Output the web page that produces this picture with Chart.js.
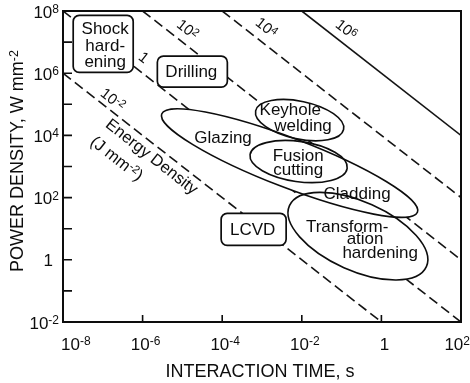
<!DOCTYPE html>
<html>
<head>
<meta charset="utf-8">
<script src="https://cdn.jsdelivr.net/npm/chart.js@4"></script>
<style>
  body { margin: 0; background: #fff; }
  #wrap { width: 470px; height: 383px; }
</style>
</head>
<body>
<div id="wrap"><canvas id="chart" width="470" height="383"></canvas></div>
<script>
// axis ranges and ticks
var timeRange = [1e-8, 1e2];
var powerRange = [1e-2, 1e8];
var xTickValues = [1e-8, 1e-6, 1e-4, 1e-2, 1, 1e2];
var xTickLabels = [['10', '-8'], ['10', '-6'], ['10', '-4'], ['10', '-2'], ['1', ''], ['10', '2']];
var yTickValues = [1e-2, 1, 1e2, 1e4, 1e6, 1e8];
var yTickLabels = [['10', '-2'], ['1', ''], ['10', '2'], ['10', '4'], ['10', '6'], ['10', '8']];
var yMarkValues = [1e-1, 1e1, 1e3, 1e5, 1e7];
var xMarkValues = [1e-6, 1e-4, 1e-2, 1];

// lines of constant energy density (J mm-2)
var energyLevels = ['1e-2', '1', '1e2', '1e4', '1e6'];
var lineStartTime = [1e-8, 1e-8, 1e-6, 1e-4, 1e-2];
var lineStartPower = [1e6, 1e8, 1e8, 1e8, 1e8];
var lineEndTime = [1, 1e2, 1e2, 1e2, 1e2];
var lineEndPower = [1e-2, 1e-2, 1, 1e2, 1e4];
var lineLabelBase = ['10', '1', '10', '10', '10'];
var lineLabelExp = ['-2', '', '2', '4', '6'];
var lineLabelLogT = [-6.76, -5.98, -4.88, -2.90, -0.89];
var lineLabelLogP = [5.14, 6.49, 7.39, 7.45, 7.39];

// process regions (ellipses): major axis ends in log10 units, minor/major ratio
var regionNames = ['Glazing / Cladding', 'Keyhole welding', 'Fusion cutting', 'Transformation hardening'];
var regionStartLogT = [-5.52, -3.16, -3.30, -2.31];
var regionStartLogP = [4.69, 4.79, 3.38, 1.74];
var regionEndLogT = [0.905, -0.95, -0.86, 1.13];
var regionEndLogP = [1.53, 4.19, 2.94, -0.22];
var regionRatio = [0.18, 0.42, 0.41, 0.46];

var regionText = ['Glazing', 'Keyhole', 'welding', 'Fusion', 'cutting', 'Cladding', 'Transform-', 'ation', 'hardening'];
var regionTextLogT = [-3.98, -2.29, -1.97, -2.09, -2.09, -0.61, -0.86, -0.41, -0.03];
var regionTextLogP = [3.91, 4.81, 4.30, 3.33, 2.88, 2.11, 1.05, 0.66, 0.21];

// boxed processes
var boxText = [['Shock', 'hard-', 'ening'], ['Drilling'], ['LCVD']];
var boxLogT = [-6.99, -4.75, -3.21];
var boxLogP = [6.94, 6.05, 0.98];

// note along the lowest line
var noteLogT = [-5.78, -6.66];
var noteLogP = [3.30, 3.24];

// styles
var FONT = '"Liberation Sans", Arial, Helvetica, sans-serif';
var INK = '#0d0d0d';
var boxSize = [[60, 57], [70, 31], [65, 32]];

function partsWidth(ctx, parts, size, sup) {
    var w = 0;
    parts.forEach(function (p) {
	ctx.font = (p[1] ? sup : size) + 'px ' + FONT;
	w += ctx.measureText(p[0]).width;
    });
    return w;
}

function drawParts(ctx, parts, x, y, size, sup, align) {
    var w = partsWidth(ctx, parts, size, sup);
    var pos = align === 'right' ? x - w : (align === 'left' ? x : x - w / 2);
    var rise = size * 0.36 - sup * 0.36 + 1.5;
    ctx.textAlign = 'left';
    ctx.textBaseline = 'middle';
    parts.forEach(function (p) {
	ctx.font = (p[1] ? sup : size) + 'px ' + FONT;
	ctx.fillText(p[0], pos, p[1] ? y - rise : y);
	pos += ctx.measureText(p[0]).width;
    });
    return w;
}

function supParts(base, exp) {
    var parts = [[base, false]];
    if (exp) parts.push([exp, true]);
    return parts;
}

var overlay = {
    id: 'overlay',
    afterDatasetsDraw: function (chart) {
	var ctx = chart.ctx;
	var xs = chart.scales.x, ys = chart.scales.y;
	var area = chart.chartArea;
	var px = function (lt) { return xs.getPixelForValue(Math.pow(10, lt)); };
	var py = function (lp) { return ys.getPixelForValue(Math.pow(10, lp)); };
	ctx.save();

	// ellipses: fill all, then outline all
	var shapes = [];
	for (var i = 0; i < regionNames.length; i++) {
	    var x1 = px(regionStartLogT[i]), y1 = py(regionStartLogP[i]);
	    var x2 = px(regionEndLogT[i]), y2 = py(regionEndLogP[i]);
	    var a = Math.hypot(x2 - x1, y2 - y1) / 2;
	    shapes.push([(x1 + x2) / 2, (y1 + y2) / 2, a, a * regionRatio[i], Math.atan2(y2 - y1, x2 - x1)]);
	}
	ctx.fillStyle = '#fff';
	shapes.forEach(function (s) {
	    ctx.beginPath(); ctx.ellipse(s[0], s[1], s[2], s[3], s[4], 0, Math.PI * 2); ctx.fill();
	});
	ctx.strokeStyle = INK;
	ctx.lineWidth = 1.6;
	shapes.forEach(function (s) {
	    ctx.beginPath(); ctx.ellipse(s[0], s[1], s[2], s[3], s[4], 0, Math.PI * 2); ctx.stroke();
	});

	// boxes
	for (var b = 0; b < boxText.length; b++) {
	    var bx = px(boxLogT[b]), by = py(boxLogP[b]);
	    var w = boxSize[b][0], h = boxSize[b][1];
	    ctx.beginPath();
	    ctx.roundRect(bx - w / 2, by - h / 2, w, h, 6);
	    ctx.fillStyle = '#fff';
	    ctx.fill();
	    ctx.lineWidth = 1.7;
	    ctx.stroke();
	    ctx.fillStyle = INK;
	    ctx.font = '17px ' + FONT;
	    ctx.textAlign = 'center';
	    ctx.textBaseline = 'middle';
	    var n = boxText[b].length;
	    for (var k = 0; k < n; k++) {
		var off = n > 1 ? 2 : 1;
		ctx.fillText(boxText[b][k], bx + (n > 1 ? 2 : -1), by + off + (k - (n - 1) / 2) * 16.5);
	    }
	}

	// region labels
	ctx.fillStyle = INK;
	ctx.font = '17px ' + FONT;
	ctx.textAlign = 'center';
	ctx.textBaseline = 'middle';
	for (var t = 0; t < regionText.length; t++) {
	    ctx.fillText(regionText[t], px(regionTextLogT[t]), py(regionTextLogP[t]));
	}

	// labels along the energy lines
	var ang = Math.atan2(ys.getPixelForValue(lineEndPower[0]) - ys.getPixelForValue(lineStartPower[0]),
			     xs.getPixelForValue(lineEndTime[0]) - xs.getPixelForValue(lineStartTime[0]));
	for (var l = 0; l < energyLevels.length; l++) {
	    ctx.save();
	    ctx.translate(px(lineLabelLogT[l]), py(lineLabelLogP[l]));
	    ctx.rotate(ang);
	    drawParts(ctx, supParts(lineLabelBase[l], lineLabelExp[l]), 0, 0, 15, 11, 'center');
	    ctx.restore();
	}
	var notes = [[['Energy Density', false]], [['(J mm', false], ['-2', true], [')', false]]];
	for (var m = 0; m < notes.length; m++) {
	    ctx.save();
	    ctx.translate(px(noteLogT[m]), py(noteLogP[m]));
	    ctx.rotate(ang);
	    drawParts(ctx, notes[m], 0, 0, 16.5, 11.5, 'center');
	    ctx.restore();
	}

	// frame and inner tick marks
	ctx.strokeStyle = '#0d0d0d';
	ctx.lineWidth = 2;
	ctx.strokeRect(area.left, area.top, area.right - area.left, area.bottom - area.top);
	ctx.lineWidth = 1.6;
	ctx.beginPath();
	yMarkValues.concat(yTickValues).forEach(function (v) {
	    var y = ys.getPixelForValue(v);
	    ctx.moveTo(area.left, y); ctx.lineTo(area.left + 9, y);
	});
	xMarkValues.forEach(function (v) {
	    var x = xs.getPixelForValue(v);
	    ctx.moveTo(x, area.bottom); ctx.lineTo(x, area.bottom - 7);
	});
	ctx.stroke();

	// tick labels
	ctx.fillStyle = INK;
	yTickValues.forEach(function (v, i) {
	    var lab = yTickLabels[i];
	    var right = lab[1] ? 59 : 53;
	    drawParts(ctx, supParts(lab[0], lab[1]), right, ys.getPixelForValue(v) + 2, 17, 12, 'right');
	});
	xTickValues.forEach(function (v, i) {
	    var lab = xTickLabels[i];
	    var parts = supParts(lab[0], lab[1]);
	    var w = partsWidth(ctx, parts, 17, 12);
	    var cx = xs.getPixelForValue(v) + 3;
	    cx = Math.max(cx, 61 + w / 2);
	    cx = Math.min(cx, chart.width - w / 2);
	    drawParts(ctx, parts, cx, 345, 17, 12, 'center');
	});

	// axis titles
	ctx.font = '18px ' + FONT;
	ctx.textAlign = 'center';
	ctx.textBaseline = 'middle';
	ctx.fillText('INTERACTION TIME, s', (area.left + area.right) / 2 - 2, 372);
	ctx.save();
	ctx.translate(18.5, 161);
	ctx.rotate(-Math.PI / 2);
	drawParts(ctx, [['POWER DENSITY, W mm', false], ['-2', true]], 0, 0, 18, 12.5, 'center');
	ctx.restore();

	ctx.restore();
    }
};

var datasets = [];
for (var i = 0; i < energyLevels.length; i++) {
    datasets.push({
	label: energyLevels[i],
	data: [{x: lineStartTime[i], y: lineStartPower[i]}, {x: lineEndTime[i], y: lineEndPower[i]}],
	borderColor: '#141414',
	borderWidth: 1.6,
	borderDash: i < 4 ? [10, 5] : [],
	pointRadius: 0,
	fill: false,
	tension: 0
    });
}

var ctx = document.getElementById('chart').getContext('2d');
new Chart(ctx, {
    type: 'line',
    data: { datasets: datasets },
    options: {
	responsive: false,
	animation: false,
	layout: { padding: { left: 63, right: 9, top: 11, bottom: 61 } },
	plugins: { legend: { display: false }, tooltip: { enabled: false } },
	scales: {
	    x: { type: 'logarithmic', min: timeRange[0], max: timeRange[1], display: false },
	    y: { type: 'logarithmic', min: powerRange[0], max: powerRange[1], display: false }
	}
    },
    plugins: [overlay]
});
</script>
</body>
</html>
